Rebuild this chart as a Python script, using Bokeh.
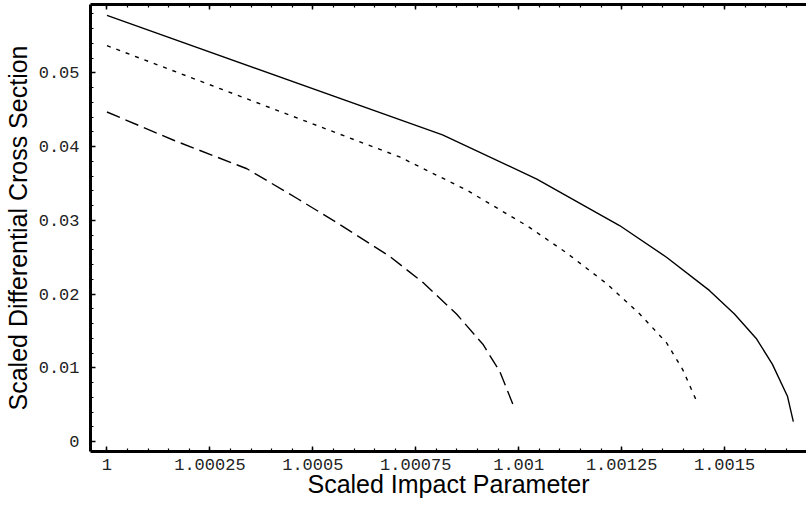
from bokeh.plotting import figure
from bokeh.models import Range1d, FixedTicker, LinearAxis
from bokeh.embed import file_html
from bokeh.resources import INLINE

# ---- data ----
solid_x = [1.0, 1.000815, 1.001044, 1.001245, 1.001359, 1.001463, 1.001524, 1.001578, 1.001616, 1.001653, 1.001667]
solid_y = [0.0578, 0.0416, 0.0356, 0.0293, 0.0250, 0.0205, 0.0173, 0.0139, 0.0105, 0.0061, 0.0027]

dotted_x = [1.0, 1.000711, 1.000874, 1.001022, 1.001116, 1.001214, 1.001294, 1.001359, 1.001398, 1.001432]
dotted_y = [0.0537, 0.0386, 0.0341, 0.0292, 0.0256, 0.0214, 0.0173, 0.0134, 0.0098, 0.0055]

dashed_x = [1.0, 1.000165, 1.000340, 1.000464, 1.000558, 1.000687, 1.000767, 1.000849, 1.000913, 1.000954, 1.000990]
dashed_y = [0.0447, 0.0408, 0.0370, 0.0329, 0.0297, 0.0251, 0.0216, 0.0173, 0.0132, 0.0095, 0.0045]

x_ticks = [1.0, 1.00025, 1.0005, 1.00075, 1.001, 1.00125, 1.0015]
x_tick_labels = ["1", "1.00025", "1.0005", "1.00075", "1.001", "1.00125", "1.0015"]
x_minor = [1.0 + i * 0.00005 for i in range(0, 34)]

y_ticks = [0.0, 0.01, 0.02, 0.03, 0.04, 0.05]
y_tick_labels = ["0", "0.01", "0.02", "0.03", "0.04", "0.05"]
y_minor = [i * 0.002 for i in range(0, 30)]

x_label = "Scaled Impact Parameter"
y_label = "Scaled Differential Cross Section"

p = figure(width=806, height=503, output_backend="svg", toolbar_location=None,
           x_range=Range1d(0.99996, 1.001699), y_range=Range1d(-0.00135, 0.05928),
           min_border_left=85, min_border_right=0, min_border_top=0, min_border_bottom=52)
p.outline_line_color = None
p.grid.visible = False

p.line(solid_x, solid_y, line_color="black", line_width=1.4)
p.line(dotted_x, dotted_y, line_color="black", line_width=1.4, line_dash="4 6")
p.line(dashed_x, dashed_y, line_color="black", line_width=1.4, line_dash="14 6")

tick_font = "Liberation Mono"
label_font = "Liberation Sans"

xa = p.xaxis[0]
xa.ticker = FixedTicker(ticks=x_ticks, minor_ticks=x_minor)
xa.major_label_overrides = dict(zip(x_ticks, x_tick_labels))
xa.axis_label = x_label
ya = p.yaxis[0]
ya.ticker = FixedTicker(ticks=y_ticks, minor_ticks=y_minor)
ya.major_label_overrides = dict(zip(y_ticks, y_tick_labels))
ya.axis_label = y_label

top = LinearAxis(ticker=FixedTicker(ticks=x_ticks, minor_ticks=x_minor))
top.major_label_overrides = {t: " " for t in x_ticks}
top.major_label_text_font_size = "1px"
top.major_label_standoff = 0
p.add_layout(top, "above")

for ax in (xa, ya, top):
    ax.axis_line_width = 3
    ax.axis_line_color = "black"
    ax.major_tick_in = 5
    ax.major_tick_out = 0
    ax.minor_tick_in = 3
    ax.minor_tick_out = 0
    ax.major_tick_line_color = "black"
    ax.major_tick_line_width = 1.5
    ax.minor_tick_line_color = "black"
    ax.minor_tick_line_width = 1.2

for ax in (xa, ya):
    ax.major_label_text_font = tick_font
    ax.major_label_text_font_size = "17px"
    ax.major_label_text_color = "#222222"
    ax.axis_label_text_font = label_font
    ax.axis_label_text_font_size = "25px"
    ax.axis_label_text_font_style = "normal"
    ax.axis_label_text_color = "black"

xa.major_label_standoff = 7
xa.axis_label_standoff = -3
ya.major_label_standoff = 11
ya.axis_label_standoff = 4

open("out.html", "w").write(file_html(p, INLINE))
